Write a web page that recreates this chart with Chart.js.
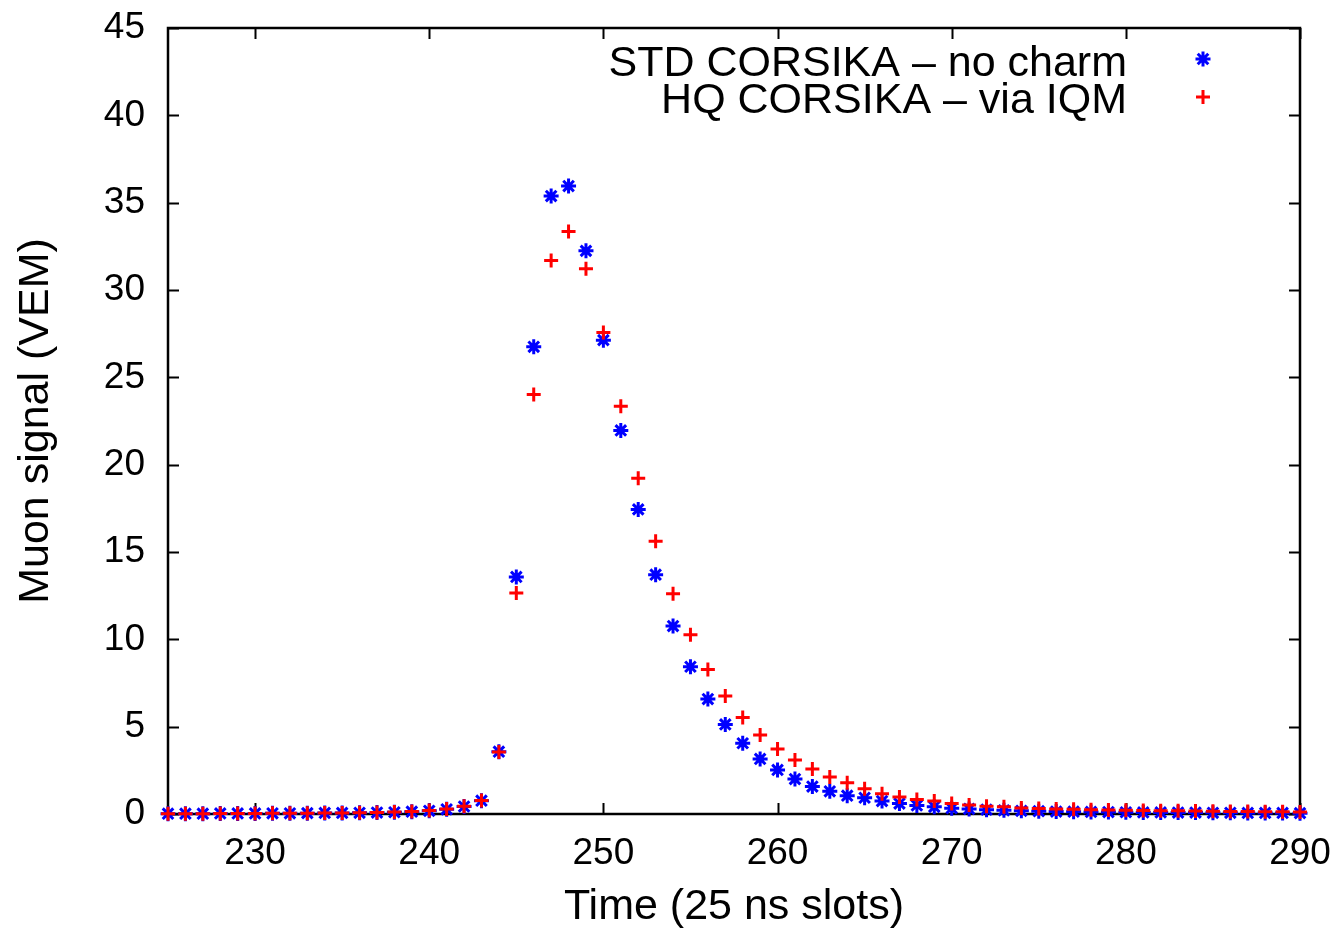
<!DOCTYPE html>
<html>
<head>
<meta charset="utf-8">
<title>Muon signal</title>
<script src="https://cdn.jsdelivr.net/npm/chart.js@4/dist/chart.umd.min.js"></script>
<style>
  html, body { margin: 0; padding: 0; background: #fff; }
  #wrap { width: 1338px; height: 933px; }
</style>
</head>
<body>
<div id="wrap"><canvas id="chart"></canvas></div>
<script>
// time slots (25 ns each)
const slots = [
  225, 226, 227, 228, 229, 230, 231, 232, 233, 234, 235, 236, 237, 238, 239, 240,
  241, 242, 243, 244, 245, 246, 247, 248, 249, 250, 251, 252, 253, 254, 255, 256,
  257, 258, 259, 260, 261, 262, 263, 264, 265, 266, 267, 268, 269, 270, 271, 272,
  273, 274, 275, 276, 277, 278, 279, 280, 281, 282, 283, 284, 285, 286, 287, 288,
  289, 290
];

// STD CORSIKA - no charm (VEM)
const stdSignal = [
  0.02, 0.02, 0.02, 0.03, 0.03, 0.03, 0.04, 0.04, 0.05, 0.06, 0.06, 0.07, 0.08, 0.10, 0.13, 0.18,
  0.27, 0.43, 0.76, 3.57, 13.57, 26.75, 35.38, 35.95, 32.24, 27.13, 21.96, 17.44, 13.70, 10.76, 8.43, 6.58,
  5.13, 4.05, 3.15, 2.52, 2.00, 1.57, 1.30, 1.05, 0.93, 0.74, 0.60, 0.49, 0.41, 0.33, 0.29, 0.25,
  0.21, 0.18, 0.16, 0.14, 0.13, 0.12, 0.11, 0.10, 0.09, 0.09, 0.08, 0.08, 0.07, 0.07, 0.06, 0.06,
  0.06, 0.05
];

// HQ CORSIKA - via IQM (VEM)
const hqSignal = [
  0.02, 0.02, 0.02, 0.03, 0.03, 0.03, 0.04, 0.04, 0.05, 0.06, 0.06, 0.07, 0.08, 0.11, 0.14, 0.20,
  0.29, 0.45, 0.78, 3.55, 12.65, 24.02, 31.69, 33.35, 31.21, 27.57, 23.35, 19.22, 15.61, 12.61, 10.26, 8.28,
  6.75, 5.53, 4.52, 3.72, 3.09, 2.58, 2.12, 1.79, 1.45, 1.16, 0.97, 0.83, 0.74, 0.60, 0.52, 0.45,
  0.41, 0.34, 0.31, 0.29, 0.27, 0.25, 0.23, 0.21, 0.20, 0.19, 0.18, 0.17, 0.16, 0.15, 0.14, 0.13,
  0.13, 0.12
];

const xTicks = [230, 240, 250, 260, 270, 280, 290];
const yTicks = [0, 5, 10, 15, 20, 25, 30, 35, 40, 45];

const seriesNames = ['STD CORSIKA \u2013 no charm', 'HQ CORSIKA \u2013 via IQM'];

const FONT = '"Liberation Sans", Arial, Helvetica, sans-serif';
Chart.defaults.font.family = FONT;
Chart.defaults.color = '#000';

const toPoints = vals => slots.map((t, i) => ({ x: t, y: vals[i] }));

// gnuplot-like border with inward ticks on all four sides
const framePlugin = {
  id: 'frame',
  beforeDatasetsDraw(chart) {
    const { ctx, chartArea: a, scales: { x, y } } = chart;
    const len = 11;
    ctx.save();
    ctx.strokeStyle = '#000';
    ctx.lineWidth = 2;
    ctx.beginPath();
    x.ticks.forEach(t => {
      const px = Math.round(x.getPixelForValue(t.value)) + 0.5;
      ctx.moveTo(px, a.bottom); ctx.lineTo(px, a.bottom - len);
      ctx.moveTo(px, a.top); ctx.lineTo(px, a.top + len);
    });
    y.ticks.forEach(t => {
      const py = Math.round(y.getPixelForValue(t.value)) + 0.5;
      ctx.moveTo(a.left, py); ctx.lineTo(a.left + len, py);
      ctx.moveTo(a.right, py); ctx.lineTo(a.right - len, py);
    });
    ctx.stroke();
    ctx.lineWidth = 2.5;
    ctx.strokeRect(a.left, a.top, a.right - a.left, a.bottom - a.top);
    ctx.restore();
  }
};

// key inside the plot, text right-aligned with the sample to its right
const keyPlugin = {
  id: 'key',
  afterDraw(chart) {
    const ctx = chart.ctx;
    const rows = [
      { ds: chart.data.datasets[0], baseline: 76, my: 59 },
      { ds: chart.data.datasets[1], baseline: 113, my: 97 },
    ];
    ctx.save();
    ctx.font = '43px ' + FONT;
    ctx.fillStyle = '#000';
    ctx.textAlign = 'right';
    ctx.textBaseline = 'alphabetic';
    rows.forEach(r => {
      ctx.fillText(r.ds.label, 1127, r.baseline);
      ctx.strokeStyle = r.ds.borderColor;
      ctx.lineWidth = r.ds.borderWidth;
      Chart.helpers.drawPoint(ctx, {
        pointStyle: r.ds.pointStyle,
        radius: r.ds.pointRadius,
        borderWidth: r.ds.borderWidth,
        rotation: 0
      }, 1203, r.my);
    });
    ctx.restore();
  }
};

new Chart(document.getElementById('chart'), {
  type: 'scatter',
  data: {
    datasets: [
      {
        label: seriesNames[0],
        data: toPoints(stdSignal),
        pointStyle: 'star',
        pointRadius: 7.5,
        pointHoverRadius: 7.5,
        borderWidth: 3,
        borderColor: '#0000ff',
        backgroundColor: '#0000ff',
        order: 2,
        clip: false,
      },
      {
        label: seriesNames[1],
        data: toPoints(hqSignal),
        pointStyle: 'cross',
        pointRadius: 7,
        pointHoverRadius: 7,
        borderWidth: 3,
        borderColor: '#ff0000',
        backgroundColor: '#ff0000',
        order: 1,
        clip: false,
      },
    ],
  },
  options: {
    responsive: true,
    maintainAspectRatio: false,
    animation: false,
    layout: { padding: { top: 28, right: 38, left: 0, bottom: 0 } },
    plugins: {
      legend: { display: false },
      tooltip: { enabled: false },
    },
    scales: {
      x: {
        type: 'linear',
        min: 225,
        max: 290,
        afterBuildTicks: s => { s.ticks = xTicks.map(v => ({ value: v })); },
        afterFit: s => { s.height = 119; s.paddingLeft = 0; s.paddingRight = 0; },
        grid: { display: false, drawTicks: false },
        border: { display: false },
        ticks: { font: { size: 37 }, padding: 18, maxRotation: 0, autoSkip: false },
        title: { display: true, text: 'Time (25 ns slots)', font: { size: 43 }, padding: { top: 0, bottom: 0 } },
      },
      y: {
        type: 'linear',
        min: 0,
        max: 45,
        afterBuildTicks: s => { s.ticks = yTicks.map(v => ({ value: v })); },
        afterFit: s => { s.width = 168; s.paddingTop = 0; s.paddingBottom = 0; },
        grid: { display: false, drawTicks: false },
        border: { display: false },
        ticks: { font: { size: 37 }, padding: 23, autoSkip: false },
        title: { display: true, text: 'Muon signal (VEM)', font: { size: 43 }, padding: { top: 10, bottom: 0 } },
      },
    },
  },
  plugins: [framePlugin, keyPlugin],
});
</script>
</body>
</html>
